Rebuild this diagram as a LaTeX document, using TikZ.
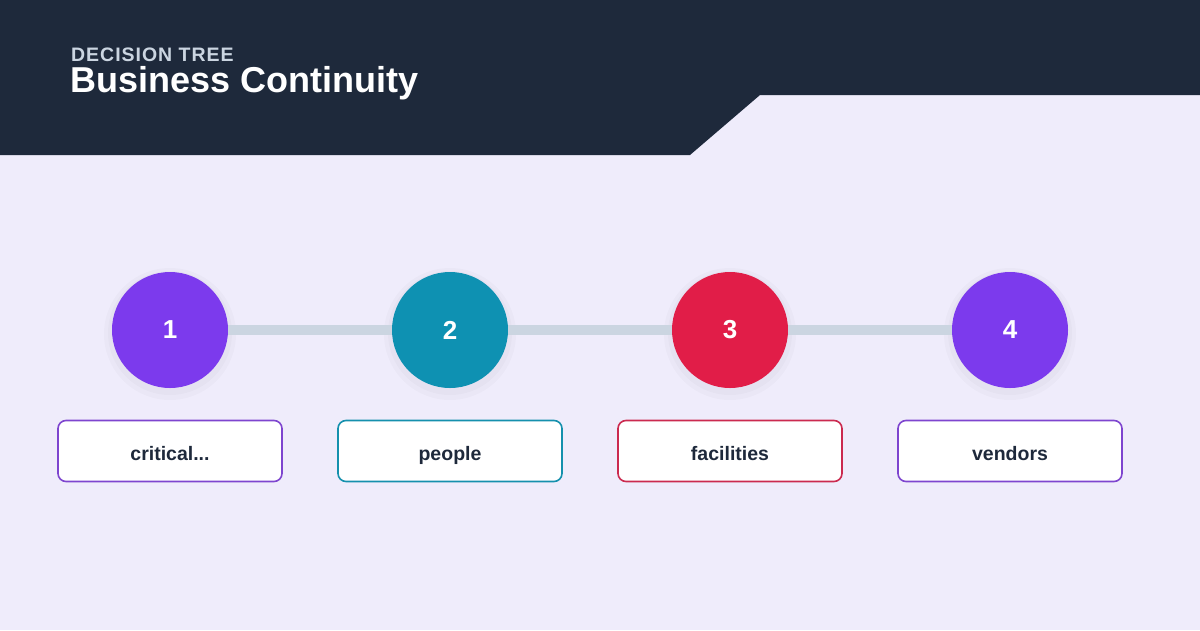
\documentclass[tikz,border=0pt]{standalone}
\usepackage{fontspec}
\setmainfont{Liberation Sans}
\usetikzlibrary{positioning}
\definecolor{bgpage}{HTML}{EFECFB}
\definecolor{navy}{HTML}{1E293B}
\definecolor{slate}{HTML}{CBD5E1}
\definecolor{cviolet}{HTML}{7C3AED}
\definecolor{cteal}{HTML}{0E91B2}
\definecolor{crose}{HTML}{E11D48}
\definecolor{bviolet}{HTML}{7E45CF}
\definecolor{bteal}{HTML}{1590AD}
\definecolor{brose}{HTML}{CB2A4F}

\begin{document}
\begin{tikzpicture}[x=1pt,y=-1pt]
\tikzstyle{every node}+=[inner sep=0pt]
\tikzstyle{stepdot}=[circle,minimum size=116pt,text=white,font=\fontsize{26}{30}\selectfont\bfseries]
\tikzstyle{shade}=[circle,fill=black,fill opacity=0.018]
\tikzstyle{labelbox}=[rectangle,rounded corners=8pt,minimum width=224pt,minimum height=61pt,fill=white,line width=1.6pt,text=navy,text height=18pt,text depth=0pt,font=\fontsize{19.5}{22}\selectfont\bfseries]
\fill [bgpage] (0,0) rectangle (1200,630);
\fill [navy] (0,0) -- (1200,0) -- (1200,95) -- (760,95) -- (690,155) -- (0,155) -- cycle;
\node [anchor=base west,text=slate,text depth=0pt,font=\fontsize{19.5}{24}\selectfont\bfseries\addfontfeatures{LetterSpace=5}] (kicker) at (71,61.5) {DECISION TREE};
\node [anchor=base west,text=white,text height=26pt,font=\fontsize{36}{40}\selectfont\bfseries] (title) at (70,92.5) {Business Continuity};
\node [shade,minimum size=132pt] at (170,334) {};
\node [shade,minimum size=124pt] at (170,333) {};
\node [shade,minimum size=132pt] at (450,334) {};
\node [shade,minimum size=124pt] at (450,333) {};
\node [shade,minimum size=132pt] at (730,334) {};
\node [shade,minimum size=124pt] at (730,333) {};
\node [shade,minimum size=132pt] at (1010,334) {};
\node [shade,minimum size=124pt] at (1010,333) {};
\node [stepdot,fill=cviolet] (n1) at (170,330) {1};
\node [stepdot,fill=cteal] (n2) at (450,330) {2};
\node [stepdot,fill=crose] (n3) at (730,330) {3};
\node [stepdot,fill=cviolet] (n4) at (1010,330) {4};
\draw [slate,line width=10pt] (n1.east) -- (n2.west);
\draw [slate,line width=10pt] (n2.east) -- (n3.west);
\draw [slate,line width=10pt] (n3.east) -- (n4.west);
\node [labelbox,draw=bviolet] (b1) at (170,451) {critical...};
\node [labelbox,draw=bteal] (b2) at (450,451) {people};
\node [labelbox,draw=brose] (b3) at (730,451) {facilities};
\node [labelbox,draw=bviolet] (b4) at (1010,451) {vendors};
\end{tikzpicture}
\end{document}
